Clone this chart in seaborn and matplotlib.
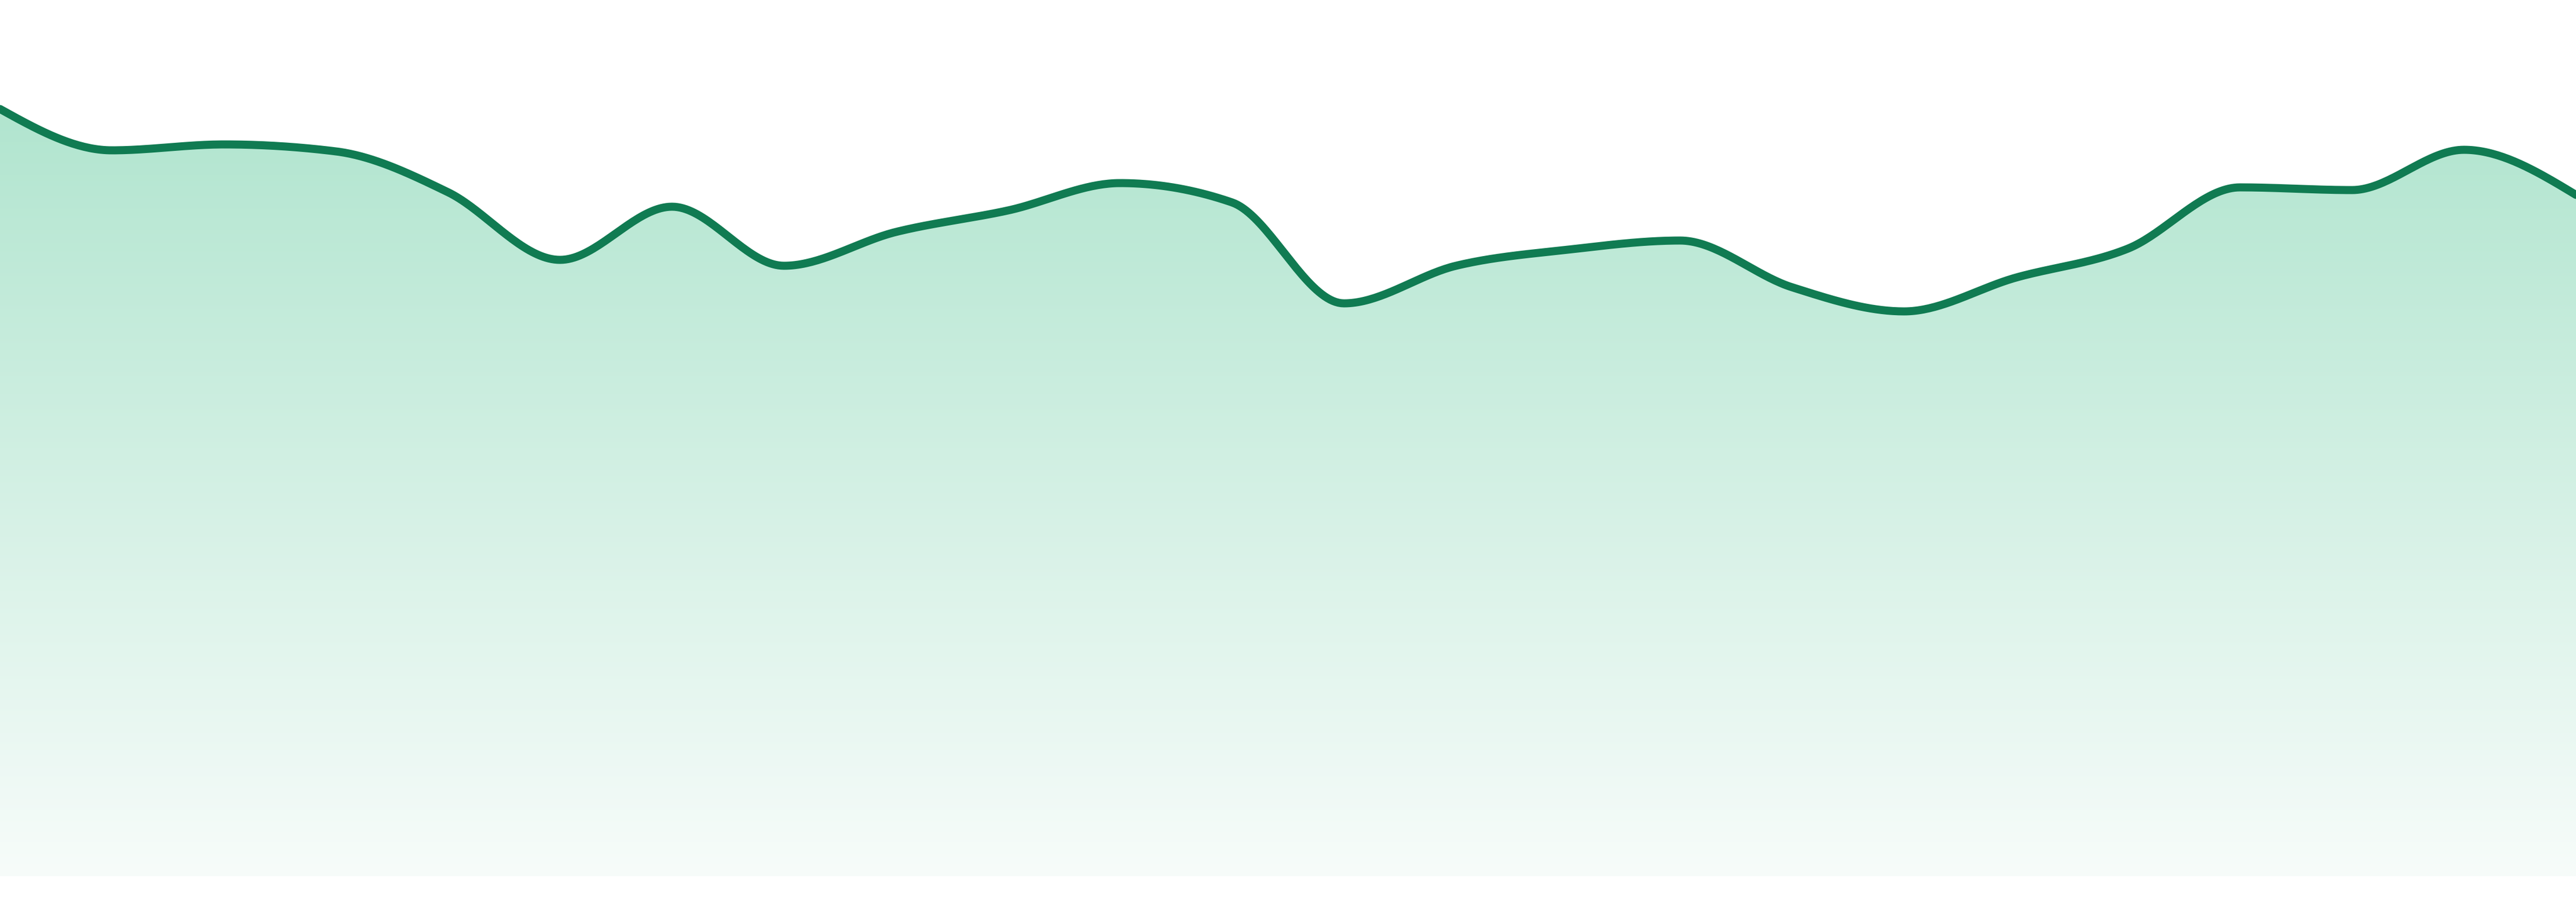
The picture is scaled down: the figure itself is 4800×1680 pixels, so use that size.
"""
Smooth area chart with a vertical gradient fill and no axes.
"""
import matplotlib
matplotlib.use("Agg")
import matplotlib.pyplot as plt
from matplotlib.colors import to_rgb
import numpy as np
import pandas as pd
import seaborn as sns

# Data (24 evenly spaced samples)
periods = list(range(24))
values = [142.9, 135.2, 136.3, 135.0, 127.4, 114.8, 124.7, 113.7,
          120.0, 124.0, 129.1, 125.5, 106.7, 113.7, 116.7, 118.4,
          109.7, 105.2, 111.5, 116.9, 128.3, 127.8, 135.3, 126.9]

# Style
LINE_COLOR = "#107b52"
FILL_TOP = "#b1e5cf"
FILL_BOTTOM = "#f7fcfa"
Y_TOP = 163.2

sns.set_theme(style="white")


def monotone_curve(x, y, samples=40):
    """Monotone cubic curve through the points (same shape as d3 curveMonotoneX)."""
    x = np.asarray(x, dtype=float)
    y = np.asarray(y, dtype=float)
    h = np.diff(x)
    s = np.diff(y) / h
    t = np.zeros_like(y)
    for i in range(1, len(x) - 1):
        p = (s[i - 1] * h[i] + s[i] * h[i - 1]) / (h[i - 1] + h[i])
        t[i] = (np.sign(s[i - 1]) + np.sign(s[i])) * min(abs(s[i - 1]), abs(s[i]), 0.5 * abs(p))
    t[0] = (3 * s[0] - t[1]) / 2
    t[-1] = (3 * s[-1] - t[-2]) / 2

    xs, ys = [], []
    u = np.linspace(0, 1, samples, endpoint=False)
    for i in range(len(x) - 1):
        dx = h[i] / 3
        p0 = (x[i], y[i])
        p1 = (x[i] + dx, y[i] + dx * t[i])
        p2 = (x[i + 1] - dx, y[i + 1] - dx * t[i + 1])
        p3 = (x[i + 1], y[i + 1])
        b = [(1 - u) ** 3, 3 * (1 - u) ** 2 * u, 3 * (1 - u) * u ** 2, u ** 3]
        xs.append(b[0] * p0[0] + b[1] * p1[0] + b[2] * p2[0] + b[3] * p3[0])
        ys.append(b[0] * p0[1] + b[1] * p1[1] + b[2] * p2[1] + b[3] * p3[1])
    xs.append([x[-1]])
    ys.append([y[-1]])
    return np.concatenate(xs), np.concatenate(ys)


cx, cy = monotone_curve(periods, values)
curve = pd.DataFrame({"period": cx, "value": cy})

fig = plt.figure(figsize=(16, 5.6), dpi=300)
ax = fig.add_axes([0, 48 / 1680, 1, 1632 / 1680])

# gradient fill clipped to the area under the curve
area = ax.fill_between(curve["period"], curve["value"], 0, color="none", linewidth=0)
top_rgb = np.array(to_rgb(FILL_TOP))
bot_rgb = np.array(to_rgb(FILL_BOTTOM))
frac = np.linspace(0, 1, 512)[:, None]
grad = (top_rgb * (1 - frac) + bot_rgb * frac)[:, None, :]
im = ax.imshow(grad, extent=(0, 23, 0, cy.max()), aspect="auto", origin="upper",
               interpolation="bicubic", zorder=1)
im.set_clip_path(area.get_paths()[0], transform=ax.transData)

sns.lineplot(data=curve, x="period", y="value", estimator=None, sort=False,
             color=LINE_COLOR, linewidth=3.6, ax=ax, zorder=2)

ax.set_xlim(0, 23)
ax.set_ylim(0, Y_TOP)
ax.axis("off")

fig.savefig("out.png", dpi=300)
plt.close(fig)
